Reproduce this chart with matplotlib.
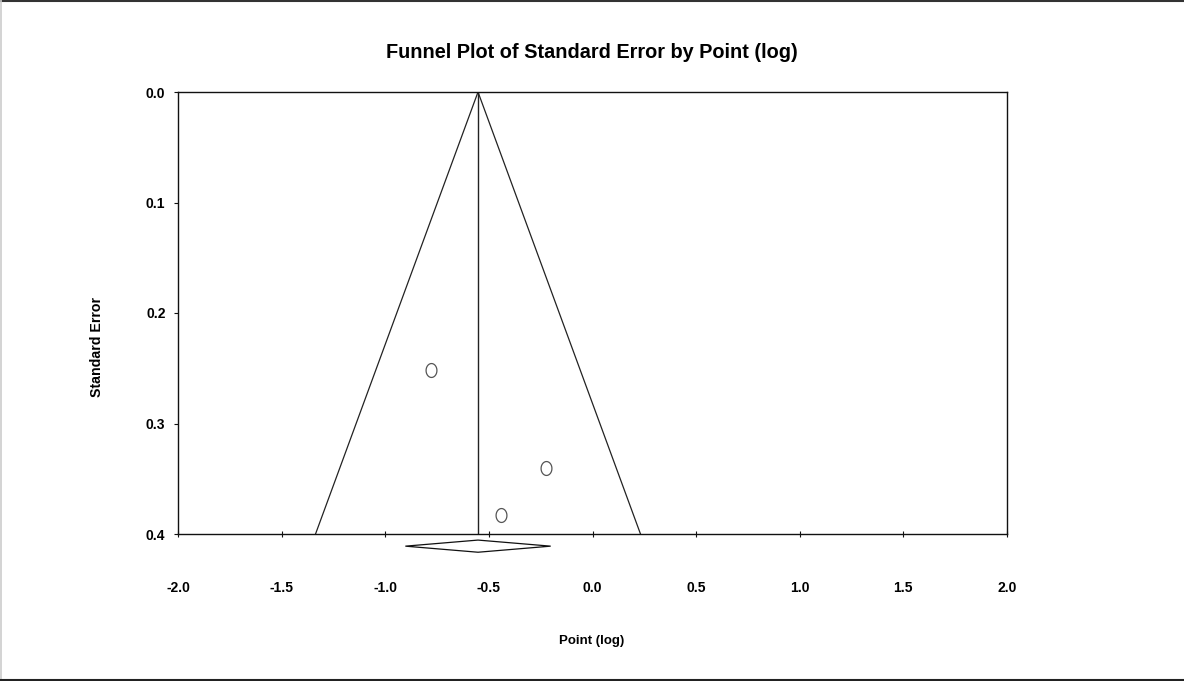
import numpy as np
import matplotlib
matplotlib.use("Agg")
import matplotlib.pyplot as plt
from matplotlib.path import Path
from matplotlib.patches import Polygon
from matplotlib.lines import Line2D

plt.rcParams['font.family'] = ['Liberation Sans', 'DejaVu Sans']

# Study-level estimates (log scale) and their standard errors
point_log = [-0.779, -0.224, -0.443]
std_err = [0.2516, 0.3405, 0.3828]

x_ticks = [-2.0, -1.5, -1.0, -0.5, 0.0, 0.5, 1.0, 1.5, 2.0]
y_ticks = [0.0, 0.1, 0.2, 0.3, 0.4]

eff = np.array(point_log)
se = np.array(std_err)
w = 1.0 / se**2
pooled = np.sum(w * eff) / np.sum(w)
pooled_se = np.sqrt(1.0 / np.sum(w))
ci_lo, ci_hi = pooled - 1.96 * pooled_se, pooled + 1.96 * pooled_se
se_max = 0.4

fig = plt.figure(figsize=(11.84, 6.81), dpi=100)
ax = fig.add_axes([178 / 1184, 1 - 534 / 681, 829 / 1184, 442 / 681])

line_col = '#222222'
# funnel (pseudo 95% limits) and pooled estimate line
ax.plot([pooled - 1.96 * se_max, pooled, pooled + 1.96 * se_max],
        [se_max, 0.0, se_max], color=line_col, lw=0.9)
ax.plot([pooled, pooled], [0.0, se_max], color=line_col, lw=1.0)

# open, slightly tall "O" markers
t = np.linspace(0, 2 * np.pi, 60)
oval = Path(np.column_stack([0.78 * np.cos(t), np.sin(t)]), closed=True)
ax.plot(eff, se, linestyle='none', marker=oval, markersize=10,
        markerfacecolor='none', markeredgecolor='#555555', markeredgewidth=0.9)

# pooled-estimate diamond below the axis
yc, hh = 0.411, 0.0055
diamond = Polygon([[ci_lo, yc], [pooled, yc - hh], [ci_hi, yc], [pooled, yc + hh]],
                  closed=True, facecolor='white', edgecolor='#111111', lw=0.9,
                  clip_on=False)
ax.add_patch(diamond)

ax.set_xlim(-2.0, 2.0)
ax.set_ylim(0.4, 0.0)
ax.set_xticks(x_ticks)
ax.set_xticklabels([f"{v:.1f}" for v in x_ticks])
ax.set_yticks(y_ticks)
ax.set_yticklabels([f"{v:.1f}" for v in y_ticks])

for s in ax.spines.values():
    s.set_linewidth(1.0)
    s.set_color('#111111')

ax.tick_params(axis='x', direction='inout', length=5, width=0.8, pad=31,
               labelsize=10, color='#111111')
ax.tick_params(axis='y', direction='out', length=3, width=0.8, pad=6,
               labelsize=10, color='#111111')
for lab in ax.get_xticklabels() + ax.get_yticklabels():
    lab.set_fontweight('bold')

fig.text(592 / 1184, 1 - 53 / 681, "Funnel Plot of Standard Error by Point (log)",
         ha='center', va='center', fontsize=14.3, fontweight='bold')
fig.text(592 / 1184, 1 - 641 / 681, "Point (log)", ha='center', va='center',
         fontsize=9.5, fontweight='bold')
fig.text(97 / 1184, 1 - 347 / 681, "Standard Error", ha='center', va='center',
         rotation=90, fontsize=10.2, fontweight='bold')

# outer frame lines
fig.add_artist(Line2D([0, 1], [0.999, 0.999], transform=fig.transFigure,
                      color='#333333', lw=1.5))
fig.add_artist(Line2D([0.0005, 0.0005], [0, 1], transform=fig.transFigure,
                      color='#cccccc', lw=1.2))
fig.add_artist(Line2D([0, 1], [1 - 679.5 / 681, 1 - 679.5 / 681],
                      transform=fig.transFigure, color='#222222', lw=1.5))

fig.savefig("out.png", dpi=100)
